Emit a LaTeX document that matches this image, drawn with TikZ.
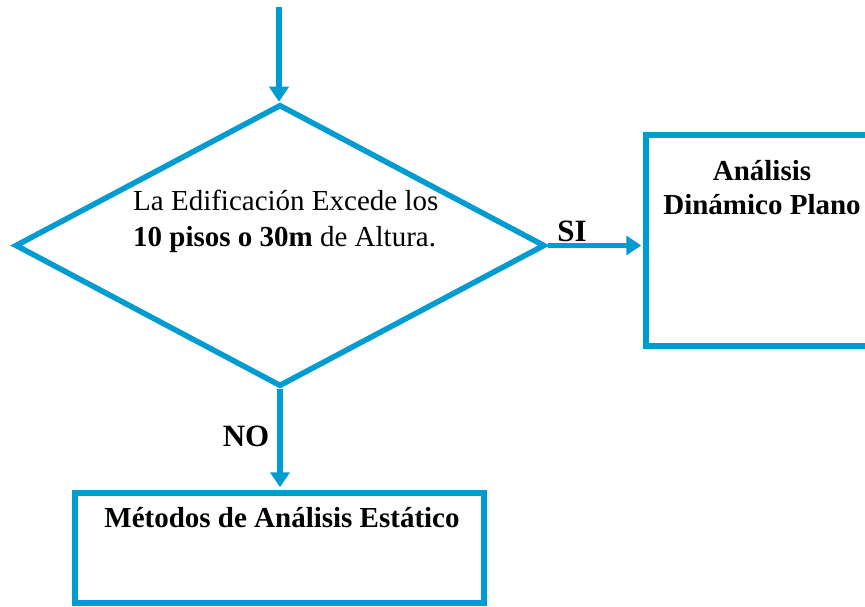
\documentclass[tikz,border=0pt]{standalone}
\usepackage{fontspec}
\setmainfont{Liberation Serif}
\usetikzlibrary{shapes.geometric,arrows.meta}
\definecolor{flowblue}{RGB}{0,155,208}
\tikzset{
  flowline/.style={draw=flowblue, line width=5.5pt},
  flowarrow/.style={flowline, -{Triangle[width=19pt,length=15pt]}},
  decision/.style={flowline, shape=diamond, inner sep=0pt, minimum width=530pt, minimum height=282pt},
  procbox/.style={flowline, rectangle, inner sep=0pt},
  txt/.style={font=\fontsize{29}{35}\selectfont, inner sep=0pt},
  btxt/.style={font=\fontsize{29}{35}\selectfont\bfseries, inner sep=0pt},
  lbl/.style={font=\fontsize{31}{36}\selectfont\bfseries, inner sep=0pt},
}
\begin{document}
\begin{tikzpicture}[x=1pt,y=-1pt]
\useasboundingbox (0,0) rectangle (865,607);
\fill[white] (0,0) rectangle (865,607);

% decision and process boxes
\node[decision] (dec) at (280,245.5) {};
\node[procbox, minimum width=354pt, minimum height=211pt] (dyn) at (823,240.5) {};
\node[procbox, minimum width=409pt, minimum height=110pt] (sta) at (279.5,548) {};

% texts
\node[txt, anchor=base west] (q1) at (133,211) {La Edificación Excede los};
\node[txt, anchor=base west] (q2) at (133,246) {\textbf{10 pisos o 30m} de Altura.};
\node[btxt, anchor=base] (d1) at (762,181) {Análisis};
\node[btxt, anchor=base] (d2) at (762,214) {Dinámico Plano};
\node[btxt, anchor=base] (s1) at (282,527) {Métodos de Análisis Estático};

% connectors
\coordinate (start) at (279,7);
\draw[flowarrow] (start) -- (start |- dec.north);
\draw[flowarrow, shorten >=2pt] (dec.east) -- (dec.east -| dyn.west);
\draw[flowarrow, shorten >=3pt] (dec.south) -- (dec.south |- sta.north);

% branch labels
\node[lbl, anchor=base] (si) at (572,241) {SI};
\node[lbl, anchor=base] (no) at (246,446) {NO};
\end{tikzpicture}
\end{document}
